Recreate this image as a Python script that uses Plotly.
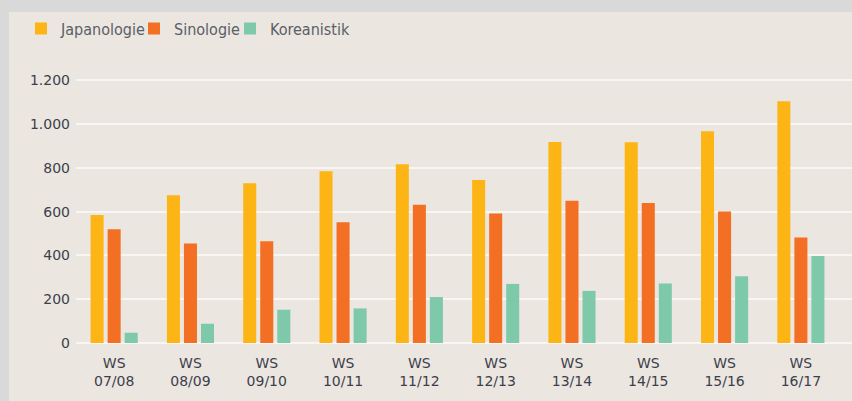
"""Studierende in Japanologie, Sinologie und Koreanistik, WS 07/08 bis WS 16/17."""
import plotly.graph_objects as go

semesters = ["WS<br>07/08", "WS<br>08/09", "WS<br>09/10", "WS<br>10/11", "WS<br>11/12",
             "WS<br>12/13", "WS<br>13/14", "WS<br>14/15", "WS<br>15/16", "WS<br>16/17"]
japanologie = [585, 675, 730, 785, 817, 745, 918, 917, 968, 1105]
sinologie = [520, 455, 465, 552, 632, 592, 650, 640, 601, 482]
koreanistik = [47, 88, 152, 158, 210, 270, 238, 272, 305, 398]

series = [
    ("Japanologie", japanologie, "#FDB515"),
    ("Sinologie", sinologie, "#F26F23"),
    ("Koreanistik", koreanistik, "#7FC9AB"),
]

# pixel helpers for the 852x401 canvas
W, H = 852, 401
L, R, T, B = 76, 0, 70, 58
PW, PH = W - L - R, H - T - B


def px_x(p):
    return (p - L) / PW


def px_y(p):
    return (H - B - p) / PH


legend_names = ["legend", "legend2", "legend3"]
legend_px = [21, 134, 230]

fig = go.Figure()
for (name, vals, color), lg in zip(series, legend_names):
    fig.add_trace(go.Bar(
        x=semesters,
        y=vals,
        name=name,
        marker=dict(color=color, line=dict(width=0)),
        legend=lg,
        hoverinfo="x+y+name",
    ))

legend_style = dict(
    orientation="h",
    yanchor="middle",
    xanchor="left",
    bgcolor="rgba(0,0,0,0)",
    font=dict(family="DejaVu Sans Condensed, DejaVu Sans", size=16, color="#5A5E68"),
    itemclick=False,
)
layout_legends = {}
for lg, p in zip(legend_names, legend_px):
    layout_legends[lg] = dict(legend_style, x=px_x(p), y=px_y(28.5))

fig.update_layout(
    width=W,
    height=H,
    margin=dict(l=L, r=R, t=T, b=B, autoexpand=False),
    paper_bgcolor="#D9D9D9",
    plot_bgcolor="rgba(0,0,0,0)",
    separators=",.",
    barmode="group",
    bargap=0.33,
    bargroupgap=0.235,
    showlegend=True,
    font=dict(family="DejaVu Sans", color="#3C3F4C"),
    shapes=[dict(
        type="rect", xref="paper", yref="paper", layer="below",
        x0=px_x(9), x1=1.02, y0=px_y(H + 2), y1=px_y(12),
        fillcolor="#ECE6E0", line=dict(width=0),
    )],
    **layout_legends,
)

fig.update_xaxes(
    type="category",
    range=[-0.5, 9.67],
    automargin=False,
    showgrid=False,
    showline=False,
    ticks="",
    ticklabelstandoff=10,
    tickfont=dict(size=14, color="#3C3F4C"),
)
fig.update_yaxes(
    range=[0, PH / 0.21885],
    automargin=False,
    tickvals=[0, 200, 400, 600, 800, 1000, 1200],
    tickformat=",d",
    showgrid=True,
    gridcolor="#F8F5F2",
    gridwidth=1.6,
    zeroline=True,
    zerolinecolor="#F8F5F2",
    zerolinewidth=1.6,
    showline=False,
    ticks="",
    ticklabelstandoff=5,
    tickfont=dict(size=14, color="#3C3F4C"),
)

# drop the default page margin so the figure sits at the window origin
fig.write_html(
    "out.html",
    config={"displayModeBar": False},
    post_script="document.body.style.margin = '0';",
)
